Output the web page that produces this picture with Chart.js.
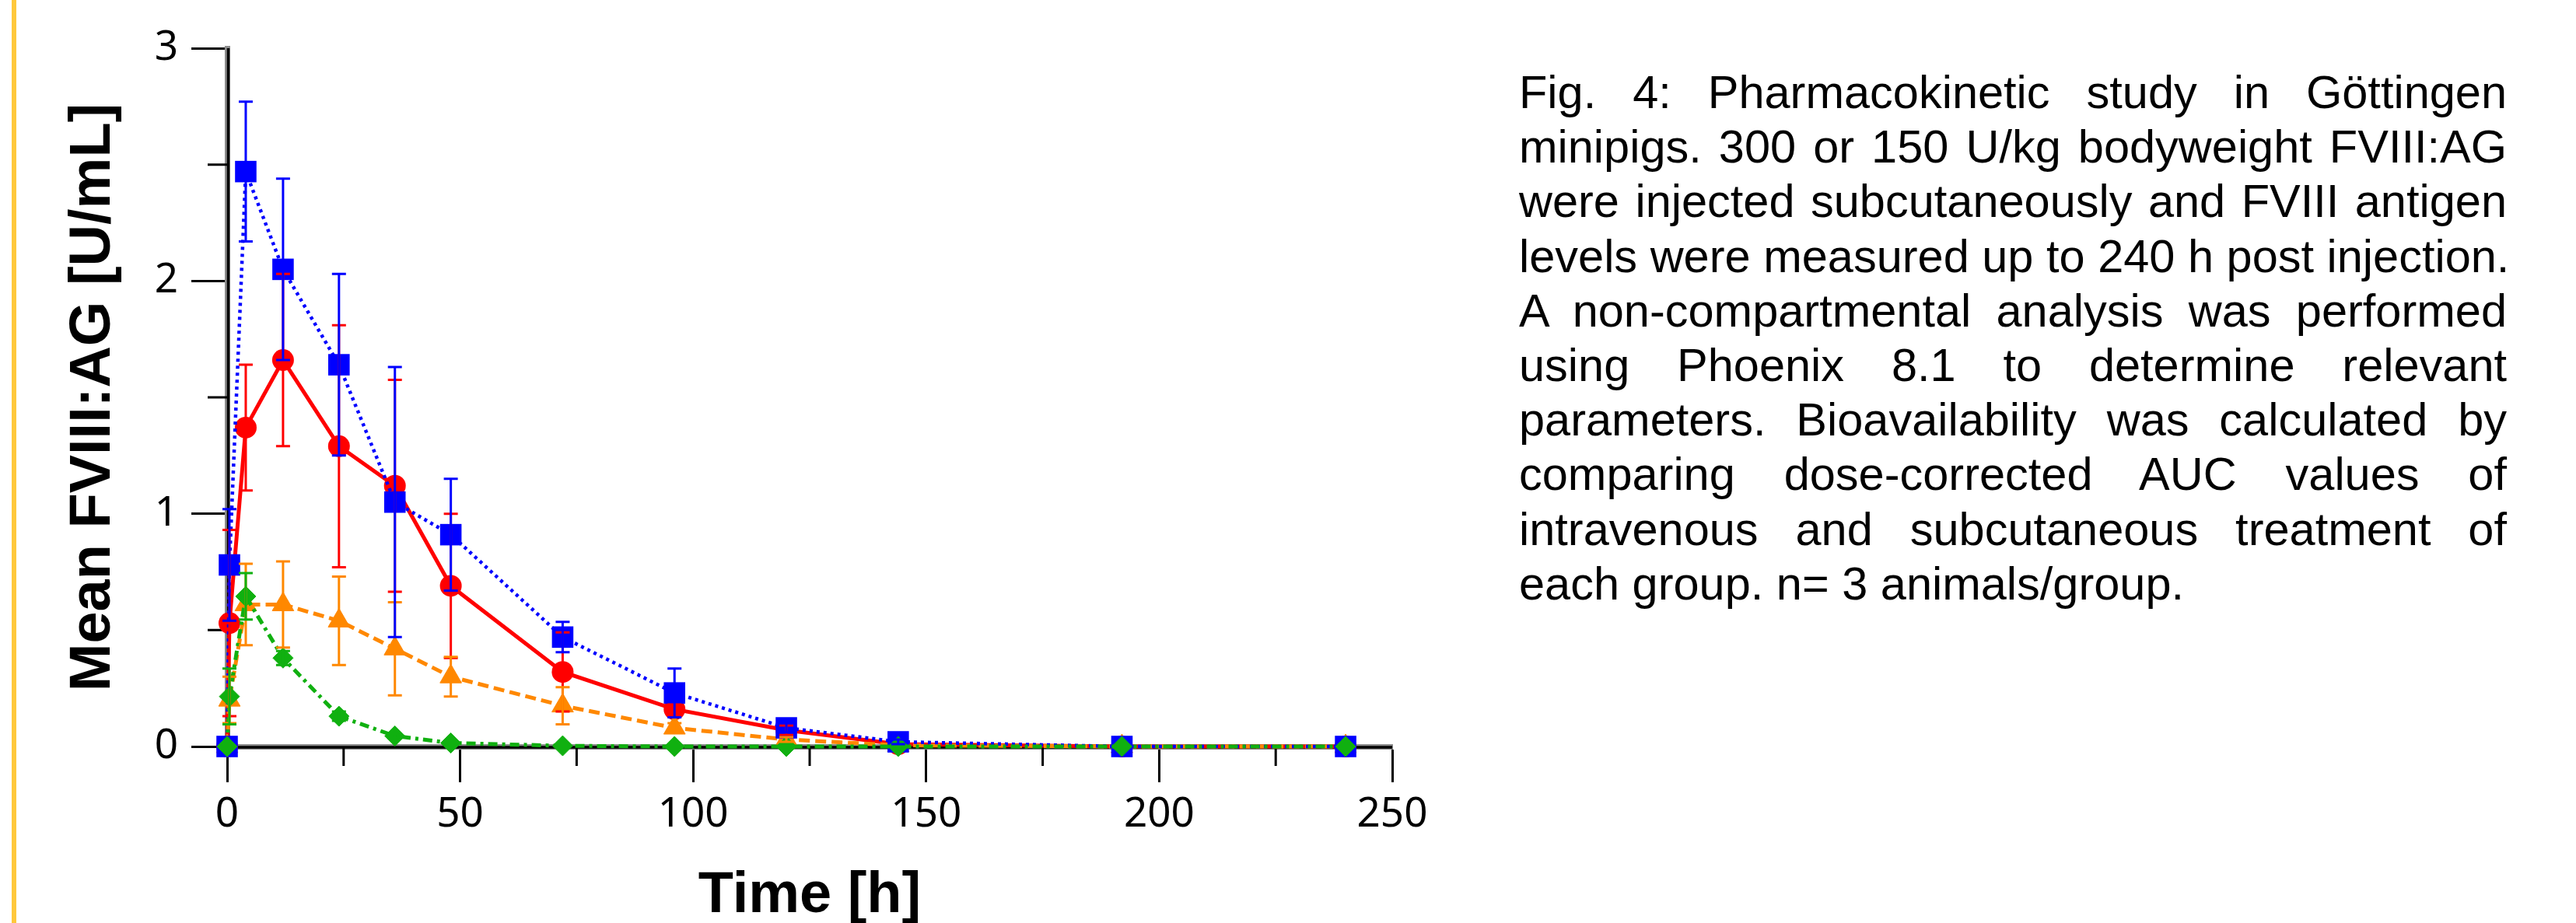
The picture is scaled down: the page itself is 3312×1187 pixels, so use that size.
<!DOCTYPE html>
<html>
<head>
<meta charset="utf-8">
<script src="https://cdn.jsdelivr.net/npm/chart.js@4.4.1/dist/chart.umd.min.js"></script>
<style>
  body { margin: 0; background: #fff; width: 3312px; height: 1187px; overflow: hidden; position: relative; }
  #leftRule { position: absolute; left: 15px; top: 0; width: 6px; height: 1187px; background: #FFC83C; }
  #chartBox { position: absolute; left: 0; top: 0; width: 1900px; height: 1187px; }
  #caption { position: absolute; left: 1953px; top: 84px; width: 1270px;
             font-family: "Liberation Sans", Arial, sans-serif; font-size: 59.5px; line-height: 70.2px; color: #000; }
  #caption div { text-align: justify; text-align-last: justify; white-space: nowrap; }
  #caption div.last { text-align: left; text-align-last: left; }
</style>
</head>
<body>
<div id="leftRule"></div>
<div id="chartBox"><canvas id="pkChart"></canvas></div>
<div id="caption">
  <div>Fig. 4: Pharmacokinetic study in Göttingen</div>
  <div>minipigs. 300 or 150 U/kg bodyweight FVIII:AG</div>
  <div>were injected subcutaneously and FVIII antigen</div>
  <div>levels were measured up to 240 h post injection.</div>
  <div>A non-compartmental analysis was performed</div>
  <div>using Phoenix 8.1 to determine relevant</div>
  <div>parameters. Bioavailability was calculated by</div>
  <div>comparing dose-corrected AUC values of</div>
  <div>intravenous and subcutaneous treatment of</div>
  <div class="last">each group. n= 3 animals/group.</div>
</div>
<script>
// sampling times [h]
var times = [0, 0.5, 4, 12, 24, 36, 48, 72, 96, 120, 144, 192, 240];

// mean FVIII:AG [U/mL] and SD per group
var blueMean = [0, 0.78, 2.47, 2.05, 1.64, 1.05, 0.91, 0.47, 0.23, 0.08, 0.02, 0, 0];
var blueSd = [0, 0.24, 0.30, 0.39, 0.39, 0.58, 0.24, 0.065, 0.105, 0.02, 0.01, 0, 0];

var redMean = [0, 0.53, 1.37, 1.66, 1.29, 1.12, 0.69, 0.32, 0.16, 0.07, 0.01, 0, 0];
var redSd = [0, 0.40, 0.27, 0.37, 0.52, 0.455, 0.31, 0.17, 0.02, 0.02, 0, 0, 0];

var orangeMean = [0, 0.20, 0.61, 0.61, 0.54, 0.42, 0.30, 0.175, 0.08, 0.03, 0.005, 0, 0];
var orangeSd = [0, 0.10, 0.175, 0.185, 0.19, 0.20, 0.085, 0.08, 0.02, 0.01, 0, 0, 0];

var greenMean = [0, 0.215, 0.645, 0.38, 0.13, 0.045, 0.015, 0.003, 0, 0, 0, 0, 0];
var greenSd = [0, 0.12, 0.10, 0.03, 0.02, 0.01, 0, 0, 0, 0, 0, 0, 0];

// axis ticks
var xMajorStep = 50;
var yMajorStep = 1;
var xMinorTicks = [25, 75, 125, 175, 225];
var yMinorTicks = [0.5, 1.5, 2.5];

function points(mean) {
     return times.map(function (t, i) { return { x: t, y: mean[i] }; });
}

// error bars, drawn on top of all markers
var errorBars = {
     id: 'errorBars',
     afterDatasetsDraw: function (chart) {
          var ctx = chart.ctx, xs = chart.scales.x, ys = chart.scales.y;
          chart.data.datasets.slice().reverse().forEach(function (ds) {
               ctx.save();
               ctx.strokeStyle = ds.borderColor;
               ctx.lineWidth = 3;
               ctx.setLineDash([]);
               ds.data.forEach(function (p, i) {
                    var e = ds.sd[i];
                    if (!e) return;
                    var x = xs.getPixelForValue(p.x);
                    var y1 = ys.getPixelForValue(p.y + e);
                    var y2 = ys.getPixelForValue(p.y - e);
                    ctx.beginPath();
                    ctx.moveTo(x, y1); ctx.lineTo(x, y2);
                    ctx.moveTo(x - 9, y1); ctx.lineTo(x + 9, y1);
                    ctx.moveTo(x - 9, y2); ctx.lineTo(x + 9, y2);
                    ctx.stroke();
               });
               ctx.restore();
          });
     }
};

// minor ticks + black core of the axis lines
var axisExtras = {
     id: 'axisExtras',
     beforeDatasetsDraw: function (chart) {
          var ctx = chart.ctx, xs = chart.scales.x, ys = chart.scales.y, a = chart.chartArea;
          ctx.save();
          ctx.strokeStyle = '#000';
          ctx.lineWidth = 3;
          ctx.beginPath();
          xMinorTicks.forEach(function (v) {
               var x = xs.getPixelForValue(v);
               ctx.moveTo(x, a.bottom); ctx.lineTo(x, a.bottom + 25);
          });
          yMinorTicks.forEach(function (v) {
               var y = ys.getPixelForValue(v);
               ctx.moveTo(a.left, y); ctx.lineTo(a.left - 25, y);
          });
          ctx.stroke();
          ctx.lineWidth = 3.5;
          ctx.beginPath();
          ctx.moveTo(a.left + 1.5, a.top); ctx.lineTo(a.left + 1.5, a.bottom);
          ctx.moveTo(a.left, a.bottom + 1); ctx.lineTo(a.right, a.bottom + 1);
          ctx.stroke();
          ctx.restore();
     }
};

var tickFont = { family: 'Noto Sans', size: 53 };

new Chart(document.getElementById('pkChart').getContext('2d'), {
     type: 'line',
     data: {
          datasets: [
               {
                    label: 'Group 4',
                    data: points(greenMean),
                    sd: greenSd,
                    borderColor: '#10B010',
                    backgroundColor: '#10B010',
                    borderWidth: 5,
                    borderDash: [12, 6, 4, 6],
                    pointStyle: 'rectRot',
                    pointRadius: 13,
                    pointBorderWidth: 1,
                    tension: 0,
                    clip: false
               },
               {
                    label: 'Group 1',
                    data: points(blueMean),
                    sd: blueSd,
                    borderColor: '#0000FF',
                    backgroundColor: '#0000FF',
                    borderWidth: 4.5,
                    borderDash: [4, 5],
                    pointStyle: 'rect',
                    pointRadius: 19.5,
                    pointBorderWidth: 0,
                    tension: 0,
                    clip: false
               },
               {
                    label: 'Group 3',
                    data: points(orangeMean),
                    sd: orangeSd,
                    borderColor: '#FF8800',
                    backgroundColor: '#FF8800',
                    borderWidth: 5,
                    borderDash: [14, 7],
                    pointStyle: 'triangle',
                    pointRadius: 16,
                    pointBorderWidth: 1,
                    tension: 0,
                    clip: false
               },
               {
                    label: 'Group 2',
                    data: points(redMean),
                    sd: redSd,
                    borderColor: '#FF0000',
                    backgroundColor: '#FF0000',
                    borderWidth: 5,
                    pointStyle: 'circle',
                    pointRadius: 14,
                    pointBorderWidth: 0,
                    tension: 0,
                    clip: false
               }
          ]
     },
     options: {
          responsive: true,
          maintainAspectRatio: false,
          animation: false,
          layout: { padding: { top: 62, right: 110, left: 0, bottom: 0 } },
          plugins: {
               legend: { display: false },
               tooltip: { enabled: false }
          },
          scales: {
               x: {
                    type: 'linear',
                    min: 0,
                    max: 250,
                    afterFit: function (s) { s.height = 227; },
                    ticks: { stepSize: xMajorStep, color: '#000', font: tickFont, padding: 10, maxRotation: 0 },
                    grid: { drawOnChartArea: false, drawTicks: true, tickLength: 46, tickColor: '#000', tickWidth: 3 },
                    border: { display: true, color: '#8c8c8c', width: 7 },
                    title: {
                         display: true,
                         text: 'Time [h]',
                         color: '#000',
                         font: { family: 'Liberation Sans', size: 74, weight: 'bold', lineHeight: 0.9 },
                         padding: { top: 0, bottom: 1 }
                    }
               },
               y: {
                    min: 0,
                    max: 3,
                    afterFit: function (s) { s.width = 292; },
                    ticks: { stepSize: yMajorStep, color: '#000', font: tickFont, padding: 17 },
                    grid: { drawOnChartArea: false, drawTicks: true, tickLength: 46, tickColor: '#000', tickWidth: 3 },
                    border: { display: true, color: '#8c8c8c', width: 7 },
                    title: {
                         display: true,
                         text: 'Mean FVIII:AG [U/mL]',
                         color: '#000',
                         font: { family: 'Liberation Sans', size: 74, weight: 'bold', lineHeight: 1.2 },
                         padding: { top: 76, bottom: 0 }
                    }
               }
          }
     },
     plugins: [axisExtras, errorBars]
});
</script>
</body>
</html>
